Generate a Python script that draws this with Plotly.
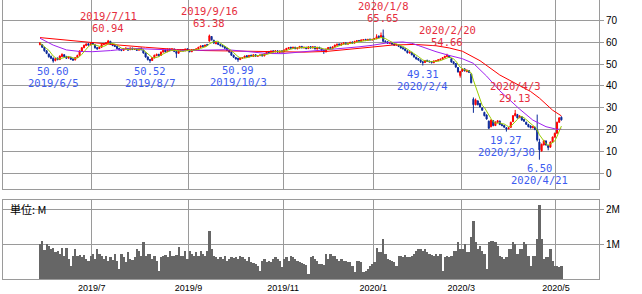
import pandas as pd
import plotly.graph_objects as go

# ---------------- data ----------------
holidays = ["2019-07-04", "2019-09-02", "2019-11-28", "2019-12-25", "2020-01-01",
            "2020-01-20", "2020-02-17", "2020-04-10"]
dates = pd.bdate_range("2019-05-28", "2020-05-05", freq="C", holidays=holidays)

opens = [58.8,58.8,57.5,56.0,54.5,53.5,52.6,51.6,52.6,52.0,53.4,54.2,53.4,52.7,53.0,52.3,51.9,53.0,54.0,55.9,
57.4,58.4,59.2,58.8,59.6,58.7,57.4,57.0,57.6,58.8,59.2,59.4,60.3,59.0,58.5,58.0,57.1,56.6,56.2,56.8,
57.1,56.5,57.2,56.6,57.0,56.3,57.2,56.3,55.0,53.2,52.0,51.6,52.8,53.8,54.4,53.9,55.4,56.4,55.6,56.8,
56.1,56.8,55.7,54.9,55.8,56.5,56.0,56.9,56.3,55.6,56.6,56.2,56.9,57.6,58.4,57.9,58.9,60.4,62.5,60.8,
59.2,59.6,58.9,58.4,57.9,57.2,56.2,55.4,54.0,53.0,52.6,52.0,52.6,52.9,53.8,53.2,54.0,53.4,54.2,53.5,
53.8,54.3,53.7,54.6,55.7,55.3,56.0,55.5,56.0,55.3,56.0,55.6,56.4,57.0,57.6,57.1,57.6,56.9,57.3,58.0,
57.3,57.6,57.0,57.9,57.3,57.8,56.8,57.6,57.1,56.3,55.5,56.7,57.6,57.0,57.8,58.5,59.1,58.6,59.1,59.6,
59.0,59.3,60.0,59.5,60.2,60.7,60.4,60.8,61.2,60.7,61.3,60.9,61.2,61.5,62.6,62.3,62.8,60.4,60.1,59.3,
59.8,59.1,58.6,58.8,58.0,57.4,56.9,56.0,55.0,55.3,54.2,53.1,52.5,51.8,51.0,50.7,51.7,51.3,51.0,50.6,
51.2,51.5,51.9,52.2,52.9,53.4,53.8,52.4,51.0,50.2,48.4,44.8,46.8,47.8,46.5,47.0,45.5,34.0,31.5,33.2,
32.0,30.0,28.0,26.8,24.0,21.5,24.2,22.0,23.5,24.0,22.5,22.0,21.0,20.6,21.2,23.8,26.5,27.0,25.6,26.0,
24.8,23.5,22.5,21.8,21.0,21.2,20.0,14.5,10.5,13.2,15.0,13.0,12.2,14.5,16.8,18.5,23.5,25.8]

highs = [60.0,59.0,57.8,56.3,54.8,53.8,53.0,52.8,53.0,53.9,54.8,54.5,53.7,53.5,53.3,52.6,53.1,54.2,56.2,57.7,
58.8,59.4,59.5,59.6,59.9,58.9,57.7,57.9,59.1,59.5,59.9,60.94,60.5,59.3,58.8,58.2,57.3,56.9,57.1,57.5,
57.3,57.5,57.4,57.3,57.2,57.4,57.5,56.5,55.2,53.4,52.3,53.1,54.2,54.7,54.6,55.7,56.6,56.6,57.0,57.0,
57.2,57.0,56.0,56.1,56.7,56.7,57.0,57.1,56.5,56.7,56.8,57.1,57.8,58.4,58.6,58.8,59.1,63.38,62.7,61.0,
59.9,59.8,59.1,58.6,58.1,57.4,56.4,55.6,54.2,53.2,52.8,52.9,53.1,53.8,54.0,54.1,54.2,54.4,54.4,54.0,
54.3,54.5,54.8,55.7,55.9,56.1,56.2,56.2,56.2,56.1,56.2,56.6,57.3,57.7,57.8,57.8,57.8,57.5,58.2,58.2,
57.8,57.8,58.0,58.1,58.0,58.0,57.8,57.8,57.3,56.5,57.0,57.7,57.8,58.0,58.8,59.2,59.3,59.4,59.8,59.8,
59.6,60.1,60.2,60.5,60.8,60.9,61.1,61.3,61.4,61.4,61.5,61.4,61.8,63.5,63.0,64.3,65.65,60.7,60.4,59.9,
60.0,59.3,59.1,59.0,58.2,57.6,57.1,56.2,55.6,55.5,54.4,53.3,52.7,52.0,51.3,51.8,51.9,51.5,51.2,51.6,
51.7,52.1,52.4,53.1,53.7,54.66,54.0,52.6,51.2,50.4,48.6,46.9,47.9,48.0,47.5,47.2,45.7,34.8,34.3,33.5,
32.3,30.3,28.3,27.1,24.3,24.8,24.5,23.9,24.5,24.3,22.8,22.3,21.3,21.3,23.8,26.8,29.13,27.3,26.7,26.3,
25.1,23.8,22.8,22.1,21.8,21.5,27.0,16.0,13.8,15.5,15.3,13.3,14.8,17.0,18.8,23.8,25.8,26.2]

lows = [58.5,57.3,55.6,54.5,52.9,52.2,50.60,51.2,51.7,51.8,53.2,53.0,52.3,52.4,51.8,51.4,51.6,52.8,53.8,55.6,
57.2,58.1,58.3,58.5,58.7,57.0,56.5,56.8,57.4,58.6,58.9,59.2,58.8,58.1,57.7,56.7,56.1,55.8,55.9,56.6,
56.0,56.3,56.3,56.4,55.9,56.1,56.2,54.7,52.9,51.6,50.52,51.4,52.6,53.6,53.4,53.7,55.2,55.2,55.4,55.8,
55.9,55.4,52.8,54.7,55.6,55.7,55.8,55.9,55.3,55.4,55.9,56.0,56.7,57.4,57.6,57.7,58.2,60.2,60.7,59.2,
59.0,58.6,58.0,57.6,56.9,55.9,55.1,53.7,52.8,52.0,50.99,51.8,52.4,52.7,52.9,53.0,53.2,53.2,53.3,53.3,
53.6,53.4,53.5,54.4,54.9,55.1,55.3,55.3,55.1,55.1,55.2,55.4,56.2,56.8,56.9,56.9,56.7,56.7,57.1,57.1,
57.1,56.7,56.8,57.0,57.1,56.6,56.6,56.8,55.9,54.6,55.3,56.5,56.7,56.8,57.6,58.3,58.3,58.4,58.9,58.8,
58.8,59.1,59.2,59.3,60.0,60.1,60.2,60.6,60.4,60.5,60.7,60.7,61.0,61.3,61.8,62.0,60.0,59.8,59.1,59.1,
58.7,58.3,58.4,57.7,57.0,56.6,55.8,54.8,54.8,53.9,52.9,52.0,51.5,50.5,49.31,50.5,50.9,50.7,50.3,50.4,
51.0,51.3,51.7,52.0,52.7,53.2,52.8,50.6,49.9,48.3,46.1,43.8,46.4,46.6,46.3,45.9,41.2,27.8,31.2,31.2,
30.2,28.7,26.2,24.7,20.5,21.2,21.7,21.8,23.3,22.2,21.7,21.0,19.27,20.3,21.0,23.6,26.2,25.2,25.4,24.2,
23.7,22.3,21.2,20.7,20.8,19.9,14.8,6.50,10.2,13.0,12.9,10.8,12.0,14.3,16.5,18.3,23.3,24.3]

closes = [59.6,57.6,56.0,54.8,53.3,52.6,51.4,52.4,52.0,53.6,54.4,53.4,52.6,53.1,52.2,51.8,52.9,53.9,55.9,57.4,
58.5,59.1,58.6,59.3,59.0,57.4,56.9,57.6,58.9,59.3,59.6,60.5,59.0,58.4,58.0,57.0,56.4,56.2,56.9,57.2,
56.3,57.3,56.6,57.0,56.2,57.1,56.5,55.0,53.2,52.0,51.6,52.9,54.0,54.4,53.7,55.4,56.3,55.5,56.7,56.1,
56.9,55.7,54.8,55.9,56.4,56.0,56.8,56.2,55.6,56.5,56.2,56.9,57.6,58.2,57.9,58.6,58.5,62.8,61.0,59.5,
59.6,58.9,58.3,57.9,57.2,56.2,55.4,54.0,53.1,52.3,52.0,52.7,52.9,53.6,53.2,53.9,53.5,54.2,53.6,53.8,
54.1,53.7,54.6,55.5,55.2,55.9,55.6,56.0,55.4,55.9,55.5,56.4,57.1,57.5,57.2,57.6,57.0,57.3,58.0,57.4,
57.6,57.0,57.8,57.3,57.8,56.9,57.6,57.1,56.2,55.6,56.8,57.5,57.0,57.8,58.6,59.0,58.6,59.2,59.6,59.1,
59.4,59.9,59.5,60.3,60.6,60.4,60.9,61.1,60.7,61.2,61.0,61.2,61.6,62.4,62.1,62.9,60.3,60.1,59.4,59.7,
59.0,58.6,58.9,58.0,57.3,56.9,56.1,55.1,55.4,54.2,53.2,52.3,51.8,51.0,50.7,51.6,51.2,51.0,50.6,51.4,
51.5,51.9,52.2,52.9,53.5,53.9,53.0,50.9,50.2,48.6,46.4,46.6,47.6,46.9,47.2,46.2,41.5,31.5,33.6,31.5,
30.5,29.0,26.5,25.0,20.8,24.5,22.0,23.6,24.2,22.5,22.0,21.3,20.5,21.0,23.5,26.5,27.5,25.5,26.4,24.5,
24.0,22.6,21.5,21.0,21.5,20.2,15.5,11.0,13.5,15.2,13.2,12.0,14.5,16.8,18.5,23.5,25.5,24.6]

volume_m = [1.00,1.09,0.83,1.00,0.95,0.86,0.90,0.76,0.81,0.71,0.88,0.67,0.90,0.57,0.38,0.67,0.86,0.67,0.69,0.64,
0.69,0.57,0.52,0.67,0.71,0.57,0.86,0.71,0.67,0.57,0.67,0.52,0.62,0.55,0.71,0.52,0.29,0.71,0.62,0.48,
0.76,0.57,0.55,0.62,0.86,0.81,0.67,1.05,0.67,0.71,0.71,0.57,0.67,0.52,0.24,0.62,0.67,0.69,0.62,0.81,
0.67,0.67,0.69,0.93,0.67,0.67,0.81,0.57,0.81,0.71,0.67,0.76,0.67,0.81,0.71,0.67,0.81,1.38,0.86,0.67,
0.62,0.57,0.62,0.57,0.67,0.52,0.57,0.62,0.59,0.62,0.57,0.67,0.62,0.57,0.52,0.62,0.48,0.46,0.43,0.38,
0.24,0.52,0.57,0.48,0.52,0.50,0.57,0.62,0.57,0.52,0.33,0.57,0.62,0.52,0.67,0.62,0.57,0.52,0.50,0.46,
0.43,0.40,0.14,0.62,0.67,0.57,0.52,0.43,0.43,0.40,0.71,0.57,0.71,0.67,0.67,0.57,0.52,0.57,0.52,0.52,
0.48,0.50,0.38,0.19,0.52,0.52,0.50,0.19,0.24,0.29,0.38,0.43,0.48,0.90,0.76,0.76,1.16,0.71,0.57,0.55,
0.52,0.48,0.38,0.67,0.67,0.62,0.69,0.64,0.62,0.67,0.71,0.81,0.86,0.86,0.81,0.86,0.76,0.71,0.69,0.67,
0.71,0.67,0.71,0.24,0.62,0.67,0.64,0.67,0.81,0.81,1.05,0.86,0.86,1.00,0.76,0.76,1.19,1.67,1.05,0.86,
0.95,0.81,0.71,0.29,1.05,1.09,1.09,1.05,0.95,0.67,0.62,0.57,0.62,0.86,0.86,1.05,1.00,0.71,0.86,0.86,
1.05,1.00,0.67,0.38,0.67,0.67,1.14,2.11,1.14,0.57,0.62,0.62,0.86,0.52,0.38,0.38,0.33,0.38]

# moving averages (trading-day index, value)
ma25_idx = [0,6,12,18,24,32,42,50,59,67,75,85,95,103,110,118,124,132,139,145,151,159,165,169,172,180,186,192,197,203,209,212,218,224,230,235,237]
ma25_val = [61.7,58.6,56.4,55.7,55.6,56.1,57.1,56.7,56.3,56.1,56.3,56.5,55.6,54.8,54.7,55.4,55.8,56.4,57.0,57.8,58.5,59.8,60.0,59.4,58.4,55.6,53.9,52.4,50.3,44.5,37.8,35.0,29.5,24.5,21.5,20.3,20.4]
ma50_idx = [0,12,24,36,48,62,75,90,105,120,130,140,150,160,170,180,186,192,200,209,217,223,227,233,237]
ma50_val = [62.0,60.8,59.5,58.6,57.6,56.6,56.1,55.8,55.4,55.4,55.7,56.5,57.6,58.6,58.9,58.3,57.3,55.8,51.5,45.0,40.5,37.5,34.5,29.0,26.4]

high_label_dates = ["2019-07-11", "2019-09-16", "2020-01-08", "2020-02-20", "2020-04-03"]
low_label_dates = ["2019-06-05", "2019-08-07", "2019-10-03", "2020-02-04", "2020-03-30", "2020-04-21"]

price_ticks = [0, 10, 20, 30, 40, 50, 60, 70]
volume_ticks = [1, 2]
volume_tick_text = ["1M", "2M"]
volume_unit_label = "単位: M"

# ---------------- figure ----------------
idx = list(range(len(dates)))
ma5 = pd.Series(closes).rolling(5, min_periods=1).mean().tolist()

GRID = "#9a9a9a"
UP = "#ff0000"
DOWN = "#0b2a99"
RED_TXT = "#e62e3e"
BLUE_TXT = "#3d5cf0"

fig = go.Figure()
fig.add_trace(go.Candlestick(
    x=idx, open=opens, high=highs, low=lows, close=closes,
    increasing=dict(line=dict(color=UP, width=1), fillcolor=UP),
    decreasing=dict(line=dict(color=DOWN, width=1), fillcolor=DOWN),
    whiskerwidth=0, xaxis="x", yaxis="y", hoverinfo="skip"))
fig.add_trace(go.Scatter(x=ma50_idx, y=ma50_val, mode="lines",
                         line=dict(color="#ff0000", width=1), xaxis="x", yaxis="y"))
fig.add_trace(go.Scatter(x=ma25_idx, y=ma25_val, mode="lines",
                         line=dict(color="#a020f0", width=1), xaxis="x", yaxis="y"))
fig.add_trace(go.Scatter(x=idx, y=ma5, mode="lines",
                         line=dict(color="#99cc00", width=1), xaxis="x", yaxis="y"))
fig.add_trace(go.Bar(x=idx, y=volume_m, marker=dict(color="#666666", line=dict(width=0)),
                     xaxis="x2", yaxis="y2"))

# month ticks (boundaries between months, every 2 months)
tickvals, ticktext = [], []
for k in range(1, len(dates)):
    d, p = dates[k], dates[k - 1]
    if d.month != p.month and d.month % 2 == 1:
        tickvals.append(k - 0.5)
        ticktext.append(f"{d.year}/{d.month}")

date_pos = {d.strftime("%Y-%m-%d"): k for k, d in enumerate(dates)}
ann_font = dict(family="DejaVu Sans Mono, Noto Sans CJK JP", size=10.5)
annotations = []
for ds in high_label_dates:
    k = date_pos[ds]
    d = dates[k]
    annotations.append(dict(x=k, y=highs[k], xref="x", yref="y", text=f"{highs[k]:.2f}",
                            showarrow=False, yshift=12, yanchor="middle",
                            font=dict(color=RED_TXT, **ann_font)))
    annotations.append(dict(x=k, y=highs[k], xref="x", yref="y", text=f"{d.year}/{d.month}/{d.day}",
                            showarrow=False, yshift=24, yanchor="middle",
                            font=dict(color=RED_TXT, **ann_font)))
for ds in low_label_dates:
    k = date_pos[ds]
    d = dates[k]
    annotations.append(dict(x=k, y=lows[k], xref="x", yref="y", text=f"{lows[k]:.2f}",
                            showarrow=False, yshift=-8, yanchor="middle",
                            font=dict(color=BLUE_TXT, **ann_font)))
    annotations.append(dict(x=k, y=lows[k], xref="x", yref="y", text=f"{d.year}/{d.month}/{d.day}",
                            showarrow=False, yshift=-20, yanchor="middle",
                            font=dict(color=BLUE_TXT, **ann_font)))
annotations.append(dict(x=0.008, y=0.251, xref="paper", yref="paper", text=volume_unit_label,
                        showarrow=False, xanchor="left", yanchor="middle",
                        font=dict(family="Noto Sans CJK JP", size=11, color="#000000")))

x_range = [-16.82, 254.09]
axis_font = dict(family="Liberation Sans, Arial", color="#000000")

fig.update_layout(
    width=642, height=294,
    margin=dict(l=3, r=43, t=0, b=15, pad=0),
    paper_bgcolor="white", plot_bgcolor="white",
    showlegend=False,
    bargap=0, boxgap=0.3,
    annotations=annotations,
    xaxis=dict(domain=[0, 1], anchor="y", range=x_range, tickvals=tickvals, ticktext=ticktext,
               showticklabels=False, showgrid=True, gridcolor=GRID, gridwidth=1,
               showline=True, linecolor=GRID, linewidth=1, mirror=False, zeroline=False,
               ticks="", rangeslider=dict(visible=False)),
    yaxis=dict(domain=[0.3226, 1], anchor="x", side="right", range=[-6.82, 79.09],
               tickvals=price_ticks, showgrid=True, gridcolor=GRID, gridwidth=1,
               showline=True, linecolor=GRID, linewidth=1, mirror=True, zeroline=False,
               ticks="outside", ticklen=4, tickcolor=GRID, tickfont=dict(size=10, **axis_font)),
    xaxis2=dict(domain=[0, 1], anchor="y2", matches="x", range=x_range, tickvals=tickvals,
                ticktext=ticktext, showgrid=True, gridcolor=GRID, gridwidth=1,
                showline=True, linecolor=GRID, linewidth=1, mirror=True, zeroline=False,
                ticks="", tickfont=dict(size=9, **axis_font)),
    yaxis2=dict(domain=[0, 0.2832], anchor="x2", side="right", range=[0, 2.263],
                tickvals=volume_ticks, ticktext=volume_tick_text, showgrid=True, gridcolor=GRID,
                gridwidth=1, showline=True, linecolor=GRID, linewidth=1, mirror=True,
                zeroline=False, ticks="outside", ticklen=4, tickcolor=GRID,
                tickfont=dict(size=10, **axis_font)),
)

fig.write_html("out.html")
